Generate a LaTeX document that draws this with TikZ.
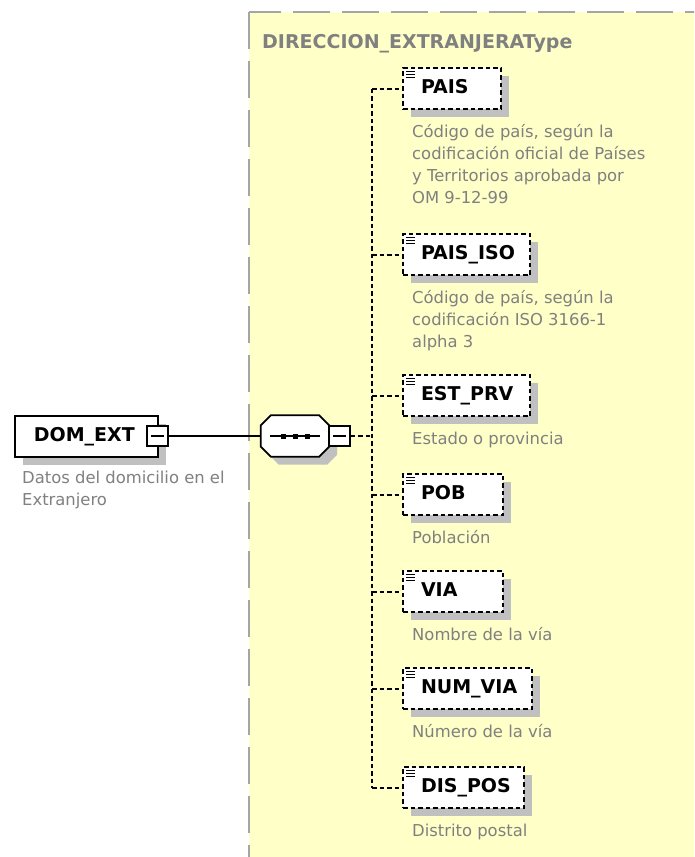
\documentclass[tikz,border=0pt]{standalone}
\usepackage{fontspec}
\setmainfont{DejaVu Sans}
\usetikzlibrary{positioning, shadows}
\definecolor{schemayellow}{RGB}{255,255,200}
\definecolor{schemagray}{RGB}{165,165,165}
\definecolor{shadowgray}{RGB}{192,192,192}
\definecolor{notegray}{RGB}{128,128,128}

\newcommand{\topstrut}{\rule{0pt}{14pt}}
% octagon outline round a node, chamfer 10
\newcommand{\octagonpath}[1]{([shift={(10,0)}]#1.north west)
  -- ([shift={(-10,0)}]#1.north east) -- ([shift={(0,10)}]#1.north east)
  -- ([shift={(0,-10)}]#1.south east) -- ([shift={(-10,0)}]#1.south east)
  -- ([shift={(10,0)}]#1.south west) -- ([shift={(0,-10)}]#1.south west)
  -- ([shift={(0,10)}]#1.north west) -- cycle}

\tikzset{
  boxshadow/.style={drop shadow={shadow xshift=8pt, shadow yshift=-8pt,
      fill=shadowgray, opacity=1}},
  elembox/.style={draw, line width=2pt, dash pattern=on 4.5pt off 3pt,
    fill=white, minimum height=41pt, inner xsep=2pt, inner ysep=0pt,
    text height=14pt, text depth=4pt, align=left, anchor=north west,
    font=\fontsize{19}{22}\selectfont\bfseries, boxshadow},
  rootbox/.style={elembox, solid, line width=1.7pt},
  seqbox/.style={minimum width=68pt, minimum height=41pt, inner sep=0pt},
  minusbox/.style={draw, line width=1.7pt, fill=white, minimum width=21pt,
    minimum height=20pt, inner sep=0pt,
    path picture={\draw[line width=2pt]
      ([xshift=4pt]path picture bounding box.west) --
      ([xshift=-4pt]path picture bounding box.east);}},
  note/.style={anchor=north west, align=left, inner sep=0pt, text=notegray,
    font=\fontsize{16.4}{22}\selectfont},
  dashline/.style={line width=2pt, dash pattern=on 4.5pt off 3pt}
}

\begin{document}
\begin{tikzpicture}[x=1pt, y=-1pt]
  \useasboundingbox (0,0) rectangle (694,857);
  \clip (0,0) rectangle (694,857);

  % complex type frame
  \draw[schemagray, line width=2pt, dash pattern=on 37pt off 12pt,
    fill=schemayellow] (249,12) rectangle (720,880);
  \node[anchor=base west, inner sep=0pt, text=notegray,
    font=\fontsize{19}{22}\selectfont\bfseries] (title) at (262,48)
    {DIRECCION\_EXTRANJERAType};

  % root element
  \node[rootbox, text width=139pt] (domext) at (14,415)
    {\hspace*{17pt}DOM\_EXT};
  \node[minusbox] (domminus) at (157.5,436) {};
  \node[note] (domnote) at (22,469)
    {\topstrut Datos del domicilio en el\\Extranjero};

  % sequence compositor
  \node[seqbox] (seqshadow) at (303,444) {};
  \node[seqbox] (seq) at (295,436) {};
  \fill[shadowgray] \octagonpath{seqshadow};
  \filldraw[fill=white, line width=1.7pt] \octagonpath{seq};
  \draw[line width=2pt] ([xshift=9pt]seq.west) -- ([xshift=-9pt]seq.east);
  \foreach \dx in {-12,0,12}
    \fill ([xshift=\dx pt]seq.center) +(-2.5pt,-2.5pt) rectangle +(2.5pt,2.5pt);
  \node[minusbox] (seqminus) at (339.5,436) {};
  \coordinate (trunk) at (372,436);

  % child elements
  \foreach \id/\t/\w/\lbl/\desc in {
      pais/67/98/PAIS/{Código de país, según la\\codificación oficial de Países\\y Territorios aprobada por\\OM 9-12-99},
      paisiso/233/127/PAIS\_ISO/{Código de país, según la\\codificación ISO 3166-1\\alpha 3},
      estprv/374/127/EST\_PRV/{Estado o provincia},
      pob/473/100/POB/{Población},
      via/570/100/VIA/{Nombre de la vía},
      numvia/667/129/NUM\_VIA/{Número de la vía},
      dispos/766/121/DIS\_POS/{Distrito postal}} {
    \node[elembox, text width=\w pt-4pt] (\id) at (402,\t)
      {\hspace*{16pt}\lbl};
    \foreach \k in {4,7,10}
      \draw[line width=1pt] ([shift={(4pt,-\k pt)}]\id.north west) -- ++(9pt,0pt);
    \node[note] (\id note) at (412,\t+56) {\topstrut\desc};
  }

  % connectors
  \draw[line width=2pt] (domminus.east) -- (seq.west);
  \draw[dashline] (seqminus.east) -- (trunk);
  \draw[dashline] (trunk |- pais.west) -- (trunk |- dispos.west);
  \foreach \id in {pais, paisiso, estprv, pob, via, numvia, dispos}
    \draw[dashline] (trunk |- \id.west) -- (\id.west);
\end{tikzpicture}
\end{document}
